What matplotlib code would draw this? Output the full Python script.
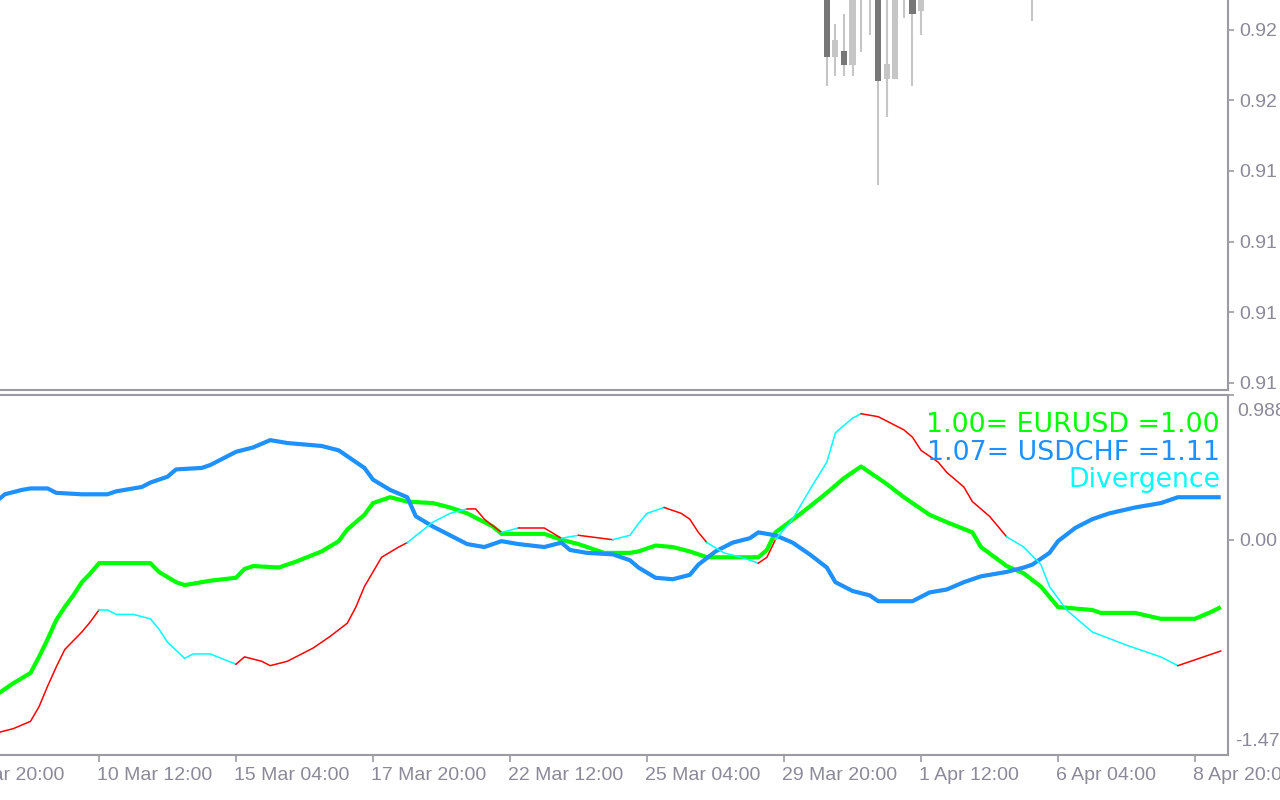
import matplotlib
matplotlib.use("Agg")
import matplotlib.pyplot as plt
import matplotlib.transforms as mtransforms

plt.rcParams['font.family'] = ['Liberation Sans', 'DejaVu Sans']

# ---------------- data ----------------
# x axis: H4 bar index, a date label every 16 bars
tick_bars = [0, 16, 32, 48, 64, 80, 96, 112, 128, 144]
tick_labels = ["5 Mar 20:00", "10 Mar 12:00", "15 Mar 04:00", "17 Mar 20:00",
               "22 Mar 12:00", "25 Mar 04:00", "29 Mar 20:00", "1 Apr 12:00",
               "6 Apr 04:00", "8 Apr 20:00"]

# indicator window: EURUSD (green), USDCHF (blue), divergence (thin red/cyan)
blue_bars = [4, 5, 7, 8, 10, 11, 14, 17, 18, 21, 22, 24, 25, 28, 29, 31, 32, 34, 36, 38,
             42, 44, 45, 47, 48, 50, 52, 53, 55, 57, 59, 61, 63, 65, 68, 70, 71, 73, 76, 78,
             79, 81, 83, 85, 86, 88, 90, 92, 93, 95, 97, 99, 101, 102, 104, 106, 107, 111, 113, 115,
             117, 119, 122, 124, 125, 127, 128, 130, 132, 134, 137, 140, 142, 147]
blue_vals = [0.26, 0.31, 0.34, 0.35, 0.35, 0.32, 0.31, 0.31, 0.33, 0.36,
             0.39, 0.43, 0.48, 0.49, 0.51, 0.57, 0.60, 0.63, 0.68, 0.66,
             0.64, 0.61, 0.57, 0.49, 0.41, 0.34, 0.29, 0.16, 0.09, 0.03,
             -0.03, -0.05, -0.01, -0.03, -0.05, -0.02, -0.07, -0.09, -0.10, -0.14,
             -0.19, -0.26, -0.27, -0.24, -0.17, -0.08, -0.02, 0.01, 0.05, 0.03,
             -0.02, -0.10, -0.19, -0.29, -0.35, -0.38, -0.42, -0.42, -0.36, -0.34,
             -0.29, -0.25, -0.22, -0.19, -0.17, -0.09, -0.01, 0.08, 0.14, 0.18,
             0.22, 0.25, 0.29, 0.29]

green_bars = [4, 6, 8, 9, 10, 11, 12, 13, 14, 15, 16, 22, 23, 25, 26, 29, 32, 33, 34, 37,
              39, 42, 44, 45, 47, 48, 50, 52, 55, 57, 59, 62, 63, 68, 70, 72, 75, 78, 79, 81,
              83, 85, 87, 93, 94, 95, 98, 101, 103, 105, 106, 108, 110, 113, 115, 118, 119, 122,
              124, 126, 128, 132, 133, 137, 140, 144, 146, 147]
green_vals = [-1.06, -0.98, -0.91, -0.80, -0.68, -0.55, -0.46, -0.38, -0.29, -0.23,
              -0.16, -0.16, -0.22, -0.29, -0.31, -0.28, -0.26, -0.20, -0.18, -0.19,
              -0.15, -0.08, -0.01, 0.07, 0.17, 0.25, 0.29, 0.26, 0.25, 0.22,
              0.18, 0.09, 0.04, 0.04, 0.00, -0.03, -0.09, -0.09, -0.08, -0.04,
              -0.05, -0.08, -0.12, -0.12, -0.07, 0.05, 0.18, 0.32, 0.42, 0.50,
              0.46, 0.38, 0.29, 0.17, 0.12, 0.05, -0.05, -0.18, -0.23, -0.32,
              -0.46, -0.48, -0.50, -0.50, -0.54, -0.54, -0.49, -0.46]

div_bars = [4, 6, 8, 9, 10, 11, 12, 14, 15, 16, 17, 18, 20, 22, 23, 24, 26, 27, 29, 32,
            33, 35, 36, 38, 40, 41, 43, 45, 46, 47, 48, 49, 51, 52, 55, 57, 59, 60, 61, 63,
            65, 68, 70, 72, 76, 78, 79, 80, 82, 84, 85, 86, 87, 89, 91, 93, 94, 95, 97, 99,
            101, 102, 104, 105, 107, 110, 111, 112, 114, 115, 117, 118, 120, 122, 124, 126,
            127, 129, 132, 136, 140, 142, 144, 147]
div_vals = [-1.32, -1.29, -1.24, -1.14, -1.00, -0.87, -0.75, -0.63, -0.56, -0.48,
            -0.48, -0.51, -0.51, -0.54, -0.61, -0.70, -0.81, -0.78, -0.78, -0.85,
            -0.80, -0.83, -0.86, -0.83, -0.77, -0.74, -0.66, -0.57, -0.46, -0.32,
            -0.22, -0.12, -0.05, -0.02, 0.12, 0.18, 0.21, 0.21, 0.14, 0.05,
            0.08, 0.08, 0.01, 0.03, 0.00, 0.03, 0.11, 0.18, 0.22, 0.18,
            0.14, 0.05, -0.02, -0.09, -0.12, -0.16, -0.12, 0.00, 0.14, 0.34,
            0.53, 0.73, 0.83, 0.86, 0.84, 0.75, 0.70, 0.61, 0.53, 0.46,
            0.36, 0.26, 0.16, 0.02, -0.05, -0.17, -0.32, -0.48, -0.63, -0.72,
            -0.80, -0.86, -0.82, -0.76]
# colour of the segment that ends at each point (r = red, c = cyan)
div_cols = ("rrrrrrrrrr" "cccccccccc" "rrrrrrrrrr" "rrrrcccrrr" "crrcrccccr"
            "rrrcccrrcc" "ccccrrrrrr" "rrrrcccccc" "ccrr")

ind_top, ind_zero, ind_bottom = 0.988, 0.0, -1.47
legend_lines = ["1.00= EURUSD =1.00", "1.07= USDCHF =1.11", "Divergence"]

# main (price) window: visible candles
candle_bars = [101, 102, 103, 104, 105, 106, 107, 108, 109, 110, 111, 112, 125]
candle_open = [0.92100, 0.92031, 0.92035, 0.92025, 0.92085, 0.92090, 0.92093,
               0.92015, 0.92015, 0.92080, 0.92085, 0.92063, 0.92090]
candle_high = [0.92114, 0.92054, 0.92061, 0.92093, 0.92110, 0.92115, 0.92107,
               0.92078, 0.92085, 0.92105, 0.92093, 0.92093, 0.92110]
candle_low = [0.92010, 0.92017, 0.92017, 0.92017, 0.92034, 0.92046, 0.91940,
              0.91988, 0.92015, 0.92058, 0.92010, 0.92046, 0.92056]
candle_close = [0.92031, 0.92043, 0.92025, 0.92085, 0.92100, 0.92105, 0.92014,
                0.92026, 0.92078, 0.92095, 0.92061, 0.92085, 0.92100]
price_ticks = [0.92050, 0.92000, 0.91950, 0.91900, 0.91850, 0.91800]
price_tick_labels = ["0.92", "0.92", "0.91", "0.91", "0.91", "0.91"]  # as visible (cut) in the chart

# ---------------- style ----------------
W, H = 1280, 800
SPINE = '#9a9ca2'
TXT = '#8a8a98'
GREEN = '#00ff00'
BLUE = '#1e90ff'
RED = '#ff0000'
CYAN = '#00ffff'
DARK = '#777777'
LIGHT = '#c6c6c6'
XLIM = (4.44, 147.85)

fig = plt.figure(figsize=(W / 100, H / 100), dpi=100)
fig.patch.set_facecolor('white')
axT = fig.add_axes([0, 1 - 390 / H, 1228 / W, 390 / H])
axB = fig.add_axes([0, 1 - 755 / H, 1228 / W, 360 / H])

for ax in (axT, axB):
    ax.set_facecolor('white')
    ax.set_xlim(*XLIM)
    ax.spines['left'].set_visible(False)
    for s in ('right', 'bottom', 'top'):
        ax.spines[s].set_color(SPINE)
        ax.spines[s].set_linewidth(1.5)
    ax.yaxis.tick_right()
    ax.tick_params(axis='y', direction='out', length=4.5, width=1.2, color=SPINE,
                   pad=3.5, labelsize=14, labelcolor=TXT)
axT.spines['top'].set_visible(False)

# ---- top panel: candles ----
axT.set_ylim(0.91795, 0.92071)
axT.set_xticks([])
axT.set_yticks(price_ticks)
axT.set_yticklabels(price_tick_labels)
for b, o, h, l, c in zip(candle_bars, candle_open, candle_high, candle_low, candle_close):
    axT.vlines(b, l, h, color=LIGHT, lw=1.5, zorder=2)
    axT.bar(b, abs(c - o), bottom=min(o, c), width=0.72,
            color=DARK if c < o else LIGHT, zorder=3, linewidth=0)

# ---- bottom panel: indicator ----
axB.set_ylim(ind_bottom, ind_top)
axB.set_yticks([ind_top, ind_zero])
axB.set_yticklabels(['', '0.00'])
axB.plot(green_bars, green_vals, color=GREEN, lw=3.0, solid_capstyle='butt', zorder=3)
axB.plot(blue_bars, blue_vals, color=BLUE, lw=3.0, solid_capstyle='butt', zorder=4)

cmap = {'r': RED, 'c': CYAN}
i = 1
n = len(div_bars)
while i < n:
    col = div_cols[i]
    j = i
    while j + 1 < n and div_cols[j + 1] == col:
        j += 1
    axB.plot(div_bars[i - 1:j + 1], div_vals[i - 1:j + 1], color=cmap[col],
             lw=1.1, zorder=5)
    i = j + 1

in_range = [b for b in tick_bars if XLIM[0] <= b <= XLIM[1]]
axB.set_xticks(in_range)
axB.set_xticklabels([''] * len(in_range))
axB.tick_params(axis='x', direction='out', length=5, width=1.2, color=SPINE)
trans = mtransforms.blended_transform_factory(axB.transData, axB.transAxes)
for b, lab in zip(tick_bars, tick_labels):
    axB.text(b - 0.25, -0.056, lab, transform=trans, ha='left', va='center',
             fontsize=14, color=TXT, clip_on=False)

# max / min labels of the indicator window
fig.text(1237 / W, 1 - 411 / H, "0.988", ha='left', va='center', fontsize=14, color=TXT)
fig.text(1235 / W, 1 - 741 / H, "-1.47", ha='left', va='center', fontsize=14, color=TXT)

# indicator legend (top right)
for txt, col, y in zip(legend_lines, [GREEN, BLUE, CYAN], [425, 453, 480]):
    fig.text(1220 / W, 1 - y / H, txt, ha='right', va='center', fontsize=19.3,
             color=col, family=['DejaVu Sans'])

fig.savefig('out.png', dpi=100, facecolor='white')
